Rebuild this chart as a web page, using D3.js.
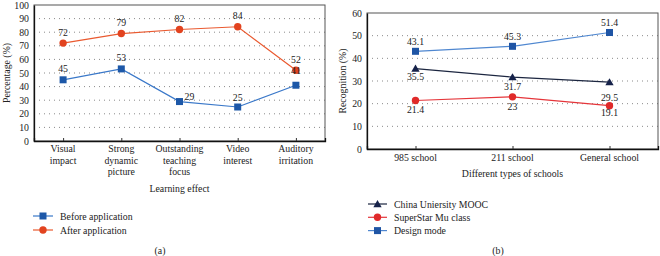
<!DOCTYPE html>
<html><head><meta charset="utf-8">
<script src="https://cdn.jsdelivr.net/npm/d3@7/dist/d3.min.js"></script>
<style>
html,body{margin:0;padding:0;background:#fff;}
svg, svg text, svg tspan{font-family:"Liberation Serif","Times New Roman",Times,serif !important;}
</style></head>
<body><svg id="c" width="660" height="256"></svg>
<script>
// ---- Data: chart (a)
const effectCategories = ["Visual impact","Strong dynamic picture","Outstanding teaching focus","Video interest","Auditory irritation"];
const effectLabelLines = [["Visual","impact"],["Strong","dynamic","picture"],["Outstanding","teaching","focus"],["Video","interest"],["Auditory","irritation"]];
const beforeApplication = [45,53,29,25,41];
const afterApplication = [72,79,82,84,52];
const percentTicks = [0,10,20,30,40,50,60,70,80,90,100];
// ---- Data: chart (b)
const schoolCategories = ["985 school","211 school","General school"];
const chinaMOOC = [35.5,31.7,29.5];
const superStar = [21.4,23,19.1];
const designMode = [43.1,45.3,51.4];
const recognitionTicks = [0,10,20,30,40,50,60];

const FONT = '"Liberation Serif","Times New Roman",Times,serif';
const svg = d3.select("#c").attr("font-family",FONT);
const FS = 9.8;

function txt(sel){ return sel.attr("font-family",FONT).style("font-family",FONT).style("font-size",FS+"px").attr("fill","#222"); }

function marker(g, type, x, y, fill){
  if(type==="square") g.append("rect").attr("x",x-3.5).attr("y",y-3.5).attr("width",7).attr("height",7).attr("fill",fill);
  else if(type==="circle") g.append("circle").attr("cx",x).attr("cy",y).attr("r",3.7).attr("fill",fill);
  else g.append("path").attr("d",d3.symbol(d3.symbolTriangle,30)()).attr("transform",`translate(${x},${y+0.8})`).attr("fill",fill);
}

function panel(cfg){
  const g = svg.append("g");
  const x = d3.scalePoint().domain(cfg.cats).range([cfg.x0,cfg.x1]).padding(0.5);
  const y = d3.scaleLinear().domain(cfg.ydom).range([cfg.y0,cfg.y1]);
  g.selectAll(".grid").data(cfg.ticks.filter(t=>t>cfg.ydom[0]&&t<cfg.ydom[1])).join("line")
    .attr("x1",cfg.x0).attr("x2",cfg.x1).attr("y1",d=>y(d)).attr("y2",d=>y(d))
    .attr("stroke","#8a8a8a").attr("stroke-width",1).attr("stroke-dasharray","1,4");
  g.append("rect").attr("x",cfg.x0).attr("y",cfg.y1).attr("width",cfg.x1-cfg.x0).attr("height",cfg.y0-cfg.y1)
    .attr("fill","none").attr("stroke","#555").attr("stroke-width",1);
  const ya = d3.axisLeft(y).tickValues(cfg.ticks).tickSize(0).tickPadding(5);
  const yg = g.append("g").attr("transform",`translate(${cfg.x0},0)`).call(ya);
  yg.attr("font-family",FONT);
  yg.select(".domain").attr("stroke","#111").attr("stroke-width",1.3);
  txt(yg.selectAll("text"));
  const xa = d3.axisBottom(x).tickSize(-3).tickFormat("");
  const xg = g.append("g").attr("transform",`translate(0,${cfg.y0})`).call(xa);
  xg.select(".domain").attr("stroke","#111").attr("stroke-width",1.3);
  xg.selectAll(".tick line").attr("stroke","#333");
  cfg.cats.forEach((c,i)=>{
    const lines = cfg.labelLines ? cfg.labelLines[i] : [c];
    const t = txt(g.append("text").attr("x",x(c)).attr("y",cfg.catY).attr("text-anchor","middle"));
    lines.forEach((l,j)=>t.append("tspan").attr("x",x(c)).attr("dy",j===0?0:11.5).text(l));
  });
  txt(g.append("text").attr("x",(cfg.x0+cfg.x1)/2).attr("y",cfg.xTitleY).attr("text-anchor","middle")).text(cfg.xTitle);
  txt(g.append("text").attr("transform",`translate(${cfg.yTitleX},${(cfg.y0+cfg.y1)/2}) rotate(-90)`).attr("text-anchor","middle")).text(cfg.yTitle);
  const line = d3.line().x((d,i)=>x(cfg.cats[i])).y(d=>y(d));
  cfg.series.forEach(s=>{
    g.append("path").attr("d",line(s.values)).attr("fill","none").attr("stroke",s.lineColor).attr("stroke-width",1.2);
    s.values.forEach((v,i)=>marker(g,s.marker,x(cfg.cats[i]),y(v),s.markerColor));
  });
  cfg.series.forEach(s=>{
    s.values.forEach((v,i)=>{
      const off = s.labelOffsets[i];
      txt(g.append("text").attr("x",x(cfg.cats[i])+off[0]).attr("y",y(v)+off[1]).attr("text-anchor","middle")
        .attr("dominant-baseline","central")).text(v);
    });
  });
  cfg.series.slice().sort((a,b)=>a.legendOrder-b.legendOrder).forEach((s,i)=>{
    const ly = cfg.legY + i*cfg.legStep;
    g.append("line").attr("x1",cfg.legX).attr("x2",cfg.legX+cfg.legLen).attr("y1",ly).attr("y2",ly).attr("stroke",s.lineColor).attr("stroke-width",1.2);
    marker(g,s.marker,cfg.legX+cfg.legLen/2,ly,s.markerColor);
    txt(g.append("text").attr("x",cfg.legX+cfg.legLen+7).attr("y",ly).attr("dominant-baseline","central")).text(s.name);
  });
  txt(g.append("text").attr("x",cfg.capX).attr("y",250).attr("text-anchor","middle").attr("dominant-baseline","central")).text(cfg.caption);
}

panel({
  cats: effectCategories, labelLines: effectLabelLines,
  x0:34, x1:325, y0:141, y1:5, ydom:[0,100], ticks:percentTicks,
  catY:152, xTitle:"Learning effect", xTitleY:192, yTitle:"Percentage (%)", yTitleX:10,
  legX:33, legLen:20, legY:216, legStep:14, capX:160, caption:"(a)",
  series:[
    {name:"Before application", values:beforeApplication, marker:"square", lineColor:"#3a78c9", markerColor:"#1d58a8", legendOrder:0,
     labelOffsets:[[0,-11],[0,-11],[10,-5],[0,-10],[0,-15]]},
    {name:"After application", values:afterApplication, marker:"circle", lineColor:"#ea5a30", markerColor:"#e2431f", legendOrder:1,
     labelOffsets:[[0,-11],[0,-11],[0,-11],[0,-11],[0,-11]]}
  ]
});

panel({
  cats: schoolCategories,
  x0:367, x1:658, y0:149, y1:13, ydom:[0,60], ticks:recognitionTicks,
  catY:161, xTitle:"Different types of schools", xTitleY:177, yTitle:"Recognition (%)", yTitleX:346,
  legX:368, legLen:19, legY:204, legStep:13.3, capX:498, caption:"(b)",
  series:[
    {name:"China Uniersity MOOC", values:chinaMOOC, marker:"triangle", lineColor:"#1c2640", markerColor:"#16224a", legendOrder:0,
     labelOffsets:[[0,8],[0,9],[0,15]]},
    {name:"SuperStar Mu class", values:superStar, marker:"circle", lineColor:"#e5353a", markerColor:"#e02a2a", legendOrder:1,
     labelOffsets:[[0,9],[0,10],[0,7]]},
    {name:"Design mode", values:designMode, marker:"square", lineColor:"#4f87d0", markerColor:"#1f55a5", legendOrder:2,
     labelOffsets:[[0,-10],[0,-10],[0,-10]]}
  ]
});
</script></body></html>
